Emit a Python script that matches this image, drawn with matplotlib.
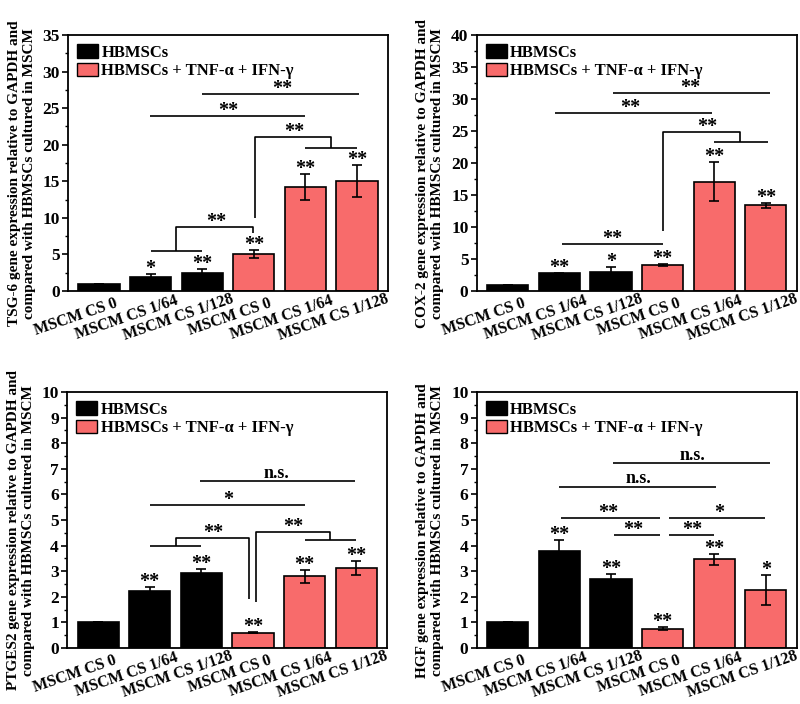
import matplotlib
matplotlib.use("Agg")
import matplotlib.pyplot as plt
from matplotlib.ticker import MultipleLocator
from matplotlib.patches import Patch

# ── Data ──────────────────────────────────────────────────────────────────────
groups = ["MSCM CS 0", "MSCM CS 1/64", "MSCM CS 1/128",
          "MSCM CS 0", "MSCM CS 1/64", "MSCM CS 1/128"]
series_names = ["HBMSCs", "HBMSCs + TNF-α + IFN-γ"]
series_index = [0, 0, 0, 1, 1, 1]

tsg_vals = [1.0, 1.95, 2.5, 5.05, 14.2, 15.1]
tsg_errs = [0, 0.35, 0.45, 0.5, 1.75, 2.2]
tsg_stars = ["", "*", "**", "**", "**", "**"]

cox_vals = [1.0, 2.8, 3.0, 4.1, 17.1, 13.4]
cox_errs = [0, 0.08, 0.7, 0.15, 3.0, 0.35]
cox_stars = ["", "**", "*", "**", "**", "**"]

ptg_vals = [1.0, 2.22, 2.95, 0.6, 2.8, 3.13]
ptg_errs = [0, 0.16, 0.15, 0.03, 0.25, 0.28]
ptg_stars = ["", "**", "**", "**", "**", "**"]

hgf_vals = [1.0, 3.78, 2.7, 0.76, 3.47, 2.27]
hgf_errs = [0, 0.43, 0.2, 0.05, 0.21, 0.6]
hgf_stars = ["", "**", "**", "**", "**", "*"]

# comparison lines: (x points, y points)
tsg_paths = [
    ([1.0, 2.0], [5.5, 5.5]),
    ([1.5, 1.5, 2.98, 2.98], [5.5, 8.8, 8.8, 7.9]),
    ([3.03, 3.03, 4.5, 4.5], [10.0, 21.0, 21.0, 19.5]),
    ([4.0, 5.0], [19.5, 19.5]),
    ([0.98, 4.0], [24.0, 24.0]),
    ([2.0, 5.03], [27.0, 27.0]),
]
tsg_marks = [(2.27, 8.8, "**"), (3.78, 21.0, "**"), (2.5, 24.0, "**"), (3.55, 27.0, "**")]

cox_paths = [
    ([1.05, 3.0], [7.35, 7.35]),
    ([3.01, 3.01, 4.5, 4.5], [9.4, 24.8, 24.8, 23.3]),
    ([4.0, 5.05], [23.3, 23.3]),
    ([0.92, 3.95], [27.8, 27.8]),
    ([2.03, 5.08], [31.0, 31.0]),
]
cox_marks = [(2.03, 7.35, "**"), (3.86, 24.8, "**"), (2.37, 27.8, "**"), (3.54, 31.0, "**")]

ptg_paths = [
    ([1.0, 2.0], [4.0, 4.0]),
    ([1.5, 1.5, 2.92, 2.92], [4.0, 4.3, 4.3, 1.92]),
    ([3.05, 3.05, 4.5, 4.5], [1.79, 4.52, 4.52, 4.23]),
    ([4.0, 5.0], [4.23, 4.23]),
    ([1.0, 4.0], [5.57, 5.57]),
    ([1.97, 4.97], [6.52, 6.52]),
]
ptg_marks = [(2.24, 4.3, "**"), (3.78, 4.52, "**"), (2.52, 5.57, "*"), (3.46, 6.52, "n.s.")]

hgf_paths = [
    ([1.03, 2.95], [5.08, 5.08]),
    ([2.05, 2.95], [4.42, 4.42]),
    ([3.13, 4.0], [4.42, 4.42]),
    ([3.13, 4.98], [5.08, 5.08]),
    ([0.99, 4.04], [6.3, 6.3]),
    ([2.03, 5.08], [7.22, 7.22]),
]
hgf_marks = [(1.95, 5.08, "**"), (2.43, 4.42, "**"), (3.57, 4.42, "**"),
             (4.09, 5.08, "*"), (2.53, 6.3, "n.s."), (3.57, 7.22, "n.s.")]

# ── Style ─────────────────────────────────────────────────────────────────────
plt.rcParams["font.family"] = ["Liberation Serif", "DejaVu Serif"]
plt.rcParams["font.weight"] = "bold"
plt.rcParams["axes.linewidth"] = 1.3

COLORS = ["#000000", "#F86B6B"]
STAR_FS = 14.5


def draw_panel(ax, gene, vals, errs, stars, paths, marks, ymax, major, minor):
    xs = list(range(len(vals)))
    colors = [COLORS[s] for s in series_index]
    ax.bar(xs, vals, width=0.8, color=colors, edgecolor="black", linewidth=1.2, zorder=2)
    ax.errorbar(xs, vals, yerr=errs, fmt="none", ecolor="black",
                elinewidth=1.2, capsize=3.5, capthick=1.2, zorder=3)

    for x, v, e, s in zip(xs, vals, errs, stars):
        if s:
            ax.annotate(s, xy=(x, v + e), xytext=(0, 0), textcoords="offset points",
                        ha="center", va="baseline", fontsize=STAR_FS, fontweight="bold")

    for px, py in paths:
        ax.plot(px, py, color="black", linewidth=1.2, solid_capstyle="butt", zorder=3)
    for mx, my, txt in marks:
        off = 2.5 if txt.startswith("n") else 0.0
        ax.annotate(txt, xy=(mx, my), xytext=(0, off), textcoords="offset points",
                    ha="center", va="baseline", fontsize=13 if off else STAR_FS,
                    fontweight="bold")

    ax.set_xlim(-0.6, 5.6)
    ax.set_ylim(0, ymax)
    ax.yaxis.set_major_locator(MultipleLocator(major))
    ax.yaxis.set_minor_locator(MultipleLocator(minor))
    ax.tick_params(axis="y", which="major", direction="out", length=4, width=1.2,
                   labelsize=12.5, pad=2)
    ax.tick_params(axis="y", which="minor", direction="out", length=2, width=1.0)
    ax.set_xticks([])
    for x, lab in zip(xs, groups):
        ax.annotate(lab, xy=(x, 0), xycoords=("data", "axes fraction"),
                    xytext=(-17, -19), textcoords="offset points",
                    ha="center", va="center", rotation=19,
                    fontsize=11.5, fontweight="bold", annotation_clip=False)

    ax.set_ylabel(f"{gene} gene expression relative to GAPDH and\n"
                  "compared with HBMSCs cultured in MSCM",
                  fontsize=11, fontweight="bold", ha="center", va="center",
                  linespacing=1.2)
    ax.yaxis.set_label_coords(-0.145, 0.46)

    handles = [Patch(facecolor=c, edgecolor="black", linewidth=1.0) for c in COLORS]
    ax.legend(handles, series_names, loc="upper left", frameon=False,
              handlelength=1.25, handleheight=0.9,
              handletextpad=0.2, labelspacing=0.1, borderaxespad=0.25,
              borderpad=0.3, prop={"weight": "bold", "size": 12})


fig = plt.figure(figsize=(8, 7.04), dpi=100)
w, h = 0.40, 0.3636
ax1 = fig.add_axes([0.085, 0.5866, w, h])
ax2 = fig.add_axes([0.596, 0.5866, w, h])
ax3 = fig.add_axes([0.084, 0.0795, w, h])
ax4 = fig.add_axes([0.596, 0.0795, w, h])

draw_panel(ax1, "TSG-6", tsg_vals, tsg_errs, tsg_stars, tsg_paths, tsg_marks, 35, 5, 2.5)
draw_panel(ax2, "COX-2", cox_vals, cox_errs, cox_stars, cox_paths, cox_marks, 40, 5, 2.5)
draw_panel(ax3, "PTGES2", ptg_vals, ptg_errs, ptg_stars, ptg_paths, ptg_marks, 10, 1, 0.5)
draw_panel(ax4, "HGF", hgf_vals, hgf_errs, hgf_stars, hgf_paths, hgf_marks, 10, 1, 0.5)

fig.savefig("out.png", dpi=100)
plt.close(fig)
